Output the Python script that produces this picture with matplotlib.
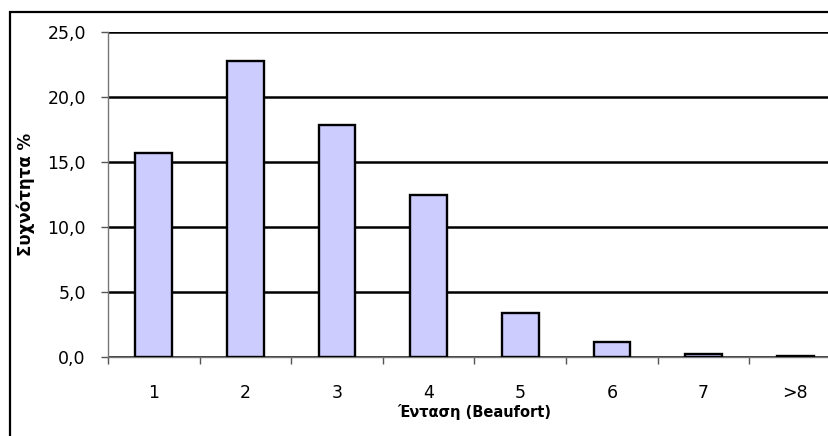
import matplotlib
matplotlib.use("Agg")
import matplotlib.pyplot as plt
from matplotlib.patches import Rectangle
from matplotlib.ticker import FixedLocator, FuncFormatter

categories = ["1", "2", "3", "4", "5", "6", "7", ">8"]
frequency = [15.7, 22.8, 17.9, 12.5, 3.4, 1.2, 0.25, 0.1]
y_ticks = [0, 5, 10, 15, 20, 25]

plt.rcParams["font.family"] = ["DejaVu Sans"]

W, H = 829, 436
fig = plt.figure(figsize=(W / 100, H / 100), dpi=100)

# chart-area frame (runs off the right and bottom edges)
fig.patches.append(Rectangle((10.5 / W, -0.2), 1.5, (H - 12) / H + 0.2,
                             transform=fig.transFigure, fill=False,
                             edgecolor="black", linewidth=1.6, zorder=0))

left, right, top, bottom = 108, 841, 32.3, 357.3
ax = fig.add_axes([left / W, 1 - bottom / H, (right - left) / W, (bottom - top) / H])

x = list(range(len(categories)))
ax.bar(x, frequency, width=0.40, color="#CCCCFF", edgecolor="black",
       linewidth=1.7, zorder=3)

ax.set_xlim(-0.5, len(categories) - 0.5)
ax.set_ylim(0, 25)
ax.set_yticks(y_ticks)
ax.yaxis.set_major_formatter(FuncFormatter(lambda v, p: f"{v:.1f}".replace(".", ",")))
ax.grid(axis="y", color="black", linewidth=1.8, zorder=1)
ax.set_axisbelow(True)

# category boundaries carry the ticks, centres carry the labels
ax.xaxis.set_major_locator(FixedLocator([i + 0.5 for i in range(-1, len(categories))]))
ax.xaxis.set_major_formatter(FuncFormatter(lambda v, p: ""))
ax.xaxis.set_minor_locator(FixedLocator(x))
ax.set_xticklabels(categories, minor=True)
ax.tick_params(axis="x", which="major", direction="out", length=5, width=1,
               color="#555555")
ax.tick_params(axis="x", which="minor", length=0, pad=19, labelsize=12.5)
ax.tick_params(axis="y", direction="out", length=5, width=1, color="#555555",
               pad=11, labelsize=12.5)

for side in ("top", "right"):
    ax.spines[side].set_visible(False)
for side in ("left", "bottom"):
    ax.spines[side].set_color("#777777")
    ax.spines[side].set_linewidth(1.0)

ax.set_xlabel("Ένταση (Beaufort)", fontsize=10.5, fontweight="bold", labelpad=2)
ax.set_ylabel("Συχνότητα %", fontsize=12, fontweight="bold", labelpad=9)

fig.savefig("out.png", dpi=100)
